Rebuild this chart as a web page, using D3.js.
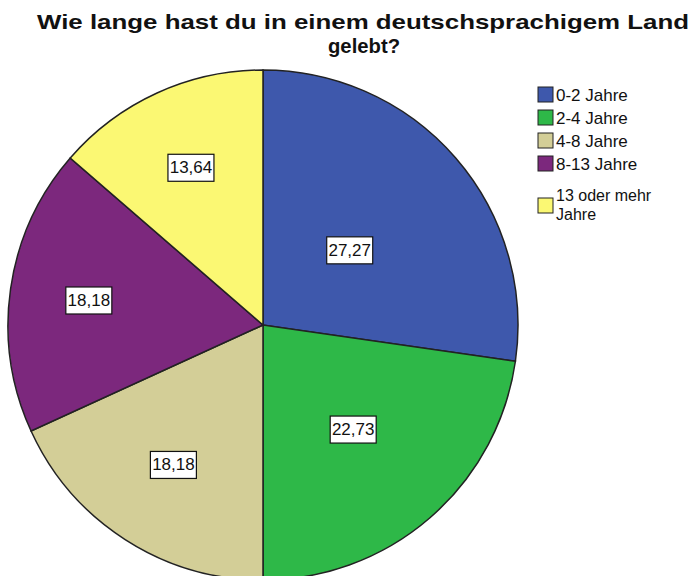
<!DOCTYPE html>
<html>
<head>
<meta charset="utf-8">
<script src="https://cdn.jsdelivr.net/npm/d3@7"></script>
<style>
  body { margin: 0; background: #fff; }
  text { font-family: "Liberation Sans", Arial, sans-serif; }
</style>
</head>
<body>
<div id="chart"></div>
<script>
var width = 694;
var height = 576;

var categories = ["0-2 Jahre", "2-4 Jahre", "4-8 Jahre", "8-13 Jahre", "13 oder mehr Jahre"];
var percents = [27.27, 22.73, 18.18, 18.18, 13.64];
var labels = ["27,27", "22,73", "18,18", "18,18", "13,64"];
var colors = ["#3e58ac", "#2eb848", "#d3ce97", "#7c287d", "#fbf873"];

var data = categories.map(function(c, i) {
  return { name: c, value: percents[i], label: labels[i], color: colors[i] };
});

var cx = 263, cy = 325, radius = 255;
// where the value boxes sit, as part of the radius
var labelRadius = [0.45, 0.54, 0.65, 0.69, 0.68];

var svg = d3.select("#chart")
  .append("svg")
  .attr("width", width)
  .attr("height", height);

// title, two lines
svg.append("text")
  .attr("x", 363)
  .attr("y", 29)
  .attr("text-anchor", "middle")
  .attr("font-weight", "bold")
  .attr("font-size", 21)
  .attr("fill", "#111")
  .attr("textLength", 652)
  .attr("lengthAdjust", "spacingAndGlyphs")
  .text("Wie lange hast du in einem deutschsprachigem Land");
svg.append("text")
  .attr("x", 364)
  .attr("y", 53)
  .attr("text-anchor", "middle")
  .attr("font-weight", "bold")
  .attr("font-size", 21)
  .attr("fill", "#111")
  .attr("textLength", 72)
  .attr("lengthAdjust", "spacingAndGlyphs")
  .text("gelebt?");

var pie = d3.pie().sort(null).value(function(d) { return d.value; });
var arcs = pie(data);
var arc = d3.arc().innerRadius(0).outerRadius(radius);

var g = svg.append("g").attr("transform", "translate(" + cx + "," + cy + ")");

g.selectAll("path")
  .data(arcs)
  .enter()
  .append("path")
  .attr("d", arc)
  .attr("fill", function(d) { return d.data.color; })
  .attr("stroke", "#222")
  .attr("stroke-width", 1.5);

var lab = g.selectAll("g.lab")
  .data(arcs)
  .enter()
  .append("g")
  .attr("class", "lab")
  .attr("transform", function(d, i) {
    var r = radius * labelRadius[i];
    var a = (d.startAngle + d.endAngle) / 2;
    return "translate(" + (Math.sin(a) * r) + "," + (-Math.cos(a) * r) + ")";
  });

lab.append("rect")
  .attr("x", -23)
  .attr("y", -13)
  .attr("width", 46)
  .attr("height", 27)
  .attr("fill", "#fff")
  .attr("stroke", "#111")
  .attr("stroke-width", 1.2);

lab.append("text")
  .attr("text-anchor", "middle")
  .attr("y", 6)
  .attr("font-size", 17)
  .attr("fill", "#111")
  .text(function(d) { return d.data.label; });

// legend
var legend = svg.append("g").attr("transform", "translate(538,87)");
var rowY = [0, 23, 46, 69, 111];

var item = legend.selectAll("g")
  .data(data)
  .enter()
  .append("g")
  .attr("transform", function(d, i) { return "translate(0," + rowY[i] + ")"; });

item.append("rect")
  .attr("width", 15)
  .attr("height", 15)
  .attr("fill", function(d) { return d.color; })
  .attr("stroke", "#222")
  .attr("stroke-width", 1);

item.append("text")
  .attr("x", 18)
  .attr("y", 14)
  .attr("font-size", 17)
  .attr("fill", "#111")
  .each(function(d) {
    var t = d3.select(this);
    if (d.name === "13 oder mehr Jahre") {
      t.attr("y", 3).attr("font-size", 16);
      t.append("tspan").attr("x", 18).text("13 oder mehr");
      t.append("tspan").attr("x", 18).attr("dy", 19).text("Jahre");
    } else {
      t.text(d.name);
    }
  });
</script>
</body>
</html>
